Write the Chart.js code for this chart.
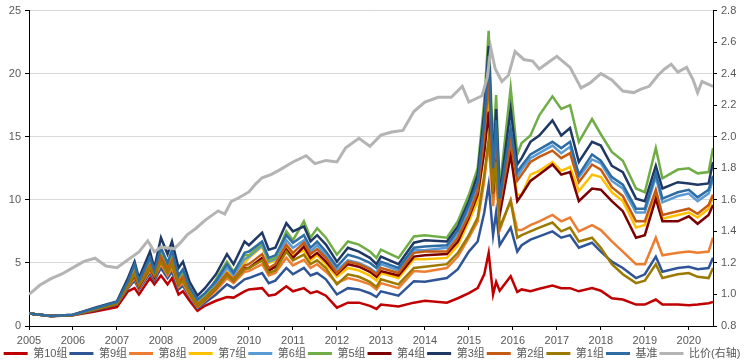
<!DOCTYPE html>
<html>
<head>
<meta charset="utf-8">
<script src="https://cdn.jsdelivr.net/npm/chart.js@4"></script>
<style>
  html, body { margin: 0; padding: 0; background: #fff; }
  #box { width: 744px; height: 363px; }
</style>
</head>
<body>
<div id="box"><canvas id="grp-chart" width="744" height="363"></canvas></div>
<script>
// 日期 (年份, 小数)
var DATES = [
  2005.0, 2005.5, 2006.0, 2006.5, 2007.0, 2007.25, 2007.4, 2007.5, 2007.75, 2007.85,
  2008.0, 2008.15, 2008.25, 2008.4, 2008.5, 2008.65, 2008.83, 2009.0, 2009.25, 2009.5,
  2009.65, 2009.9, 2010.0, 2010.3, 2010.45, 2010.6, 2010.85, 2011.0, 2011.25, 2011.4,
  2011.55, 2011.75, 2012.0, 2012.25, 2012.5, 2012.75, 2012.9, 2013.0, 2013.4, 2013.75,
  2014.0, 2014.5, 2014.75, 2015.0, 2015.2, 2015.35, 2015.45, 2015.55, 2015.62, 2015.7,
  2015.95, 2016.1, 2016.2, 2016.4, 2016.6, 2016.9, 2017.1, 2017.3, 2017.5, 2017.8,
  2018.0, 2018.25, 2018.5, 2018.8, 2019.0, 2019.25, 2019.4, 2019.75, 2020.0, 2020.2,
  2020.45, 2020.55
];

var G10 = [
  1.0, 0.78, 0.85, 1.15, 1.5, 2.75, 3.0, 2.5, 3.8, 3.3,
  4.0, 3.3, 3.8, 2.5, 2.75, 2.0, 1.2, 1.6, 2.0, 2.3,
  2.25, 2.75, 2.9, 3.0, 2.4, 2.5, 3.15, 2.75, 3.0, 2.6,
  2.75, 2.4, 1.45, 1.85, 1.85, 1.6, 1.35, 1.7, 1.55, 1.85,
  2.0, 1.85, 2.2, 2.6, 3.0, 4.1, 5.8, 2.5, 3.5, 2.8,
  3.95, 2.7, 2.9, 2.75, 2.95, 3.2, 3.0, 3.0, 2.75, 3.0,
  2.8, 2.2, 2.1, 1.7, 1.7, 2.1, 1.7, 1.7, 1.65, 1.7, 1.8, 1.9
];
var G9 = [
  1.0, 0.8, 0.87, 1.25, 1.7, 3.0, 3.6, 2.9, 4.2, 3.6,
  4.6, 3.8, 4.3, 2.9, 3.2, 2.3, 1.4, 1.85, 2.5, 3.3,
  3.0, 3.7, 3.8, 4.2, 3.4, 3.6, 4.6, 4.1, 4.6, 4.0,
  4.2, 3.7, 2.5, 3.0, 2.9, 2.6, 2.3, 2.75, 2.4, 3.55,
  3.5, 3.8, 4.5, 5.9, 6.7, 9.0, 11.2, 7.2, 9.0, 6.4,
  7.8, 5.9, 6.4, 6.85, 7.1, 7.5, 7.0, 7.2, 6.2, 6.6,
  5.9, 5.1, 4.6, 3.8, 4.1, 5.5, 4.3, 4.6, 4.7, 4.5, 4.6, 5.4
];
var G8 = [
  1.0, 0.8, 0.87, 1.3, 1.75, 3.1, 3.8, 3.0, 4.4, 3.8,
  4.9, 4.0, 4.6, 3.1, 3.4, 2.4, 1.5, 2.0, 2.8, 3.8,
  3.4, 4.3, 4.35, 4.9, 4.0, 4.2, 5.4, 4.8, 5.25, 4.6,
  4.9, 4.3, 3.4, 3.8, 3.6, 3.3, 2.9, 3.4, 3.0, 4.35,
  4.3, 4.6, 5.5, 7.0, 8.3, 11.5, 14.6, 9.5, 12.0, 7.6,
  10.0, 7.6, 7.6, 8.0, 8.3, 8.8, 8.3, 8.6, 7.5, 8.0,
  7.6, 6.7, 5.9, 4.9, 4.9, 7.0, 5.6, 5.8, 5.9, 5.8, 5.9, 7.0
];
var G7 = [
  1.0, 0.8, 0.88, 1.35, 1.8, 3.2, 4.0, 3.2, 4.6, 4.0,
  5.3, 4.3, 5.0, 3.3, 3.7, 2.6, 1.6, 2.1, 3.2, 4.3,
  3.8, 5.0, 5.4, 6.3, 5.0, 5.2, 6.2, 5.6, 6.0, 5.2,
  5.6, 4.9, 3.9, 4.6, 4.4, 4.0, 3.6, 4.2, 3.8, 5.3,
  5.3, 5.4, 6.4, 8.3, 9.9, 14.0, 18.0, 11.0, 14.0, 9.5,
  13.5, 10.4, 10.4, 12.0, 12.3, 13.0, 12.3, 12.6, 10.7, 12.0,
  11.8, 10.6, 9.9, 7.8, 8.0, 10.5, 8.5, 8.8, 9.0, 8.6, 9.3, 10.2
];
var G6 = [
  1.0, 0.8, 0.88, 1.4, 1.85, 3.4, 4.5, 3.5, 5.1, 4.3,
  6.0, 4.8, 5.7, 3.8, 4.3, 2.9, 1.9, 2.4, 3.4, 4.6,
  4.0, 5.3, 5.5, 6.4, 5.1, 5.3, 6.8, 6.2, 6.8, 5.9,
  6.4, 5.6, 4.4, 5.2, 5.0, 4.6, 4.2, 4.9, 4.4, 6.0,
  6.0, 6.2, 7.3, 9.3, 11.1, 15.5, 20.4, 12.0, 15.5, 10.0,
  15.0, 11.8, 12.4, 13.3, 13.7, 14.3, 13.7, 14.2, 11.8, 13.2,
  12.9, 11.5, 10.9, 9.0, 9.0, 11.8, 9.8, 10.3, 10.5, 9.9, 10.5, 11.6
];
var G5 = [
  1.0, 0.8, 0.88, 1.35, 1.8, 3.3, 4.3, 3.3, 4.9, 4.1,
  5.8, 4.7, 5.5, 3.7, 4.1, 2.8, 1.8, 2.3, 3.7, 5.1,
  4.3, 5.6, 5.6, 6.6, 5.2, 5.4, 7.5, 6.8, 8.3, 7.0,
  7.75, 7.0, 5.65, 6.7, 6.45, 5.9, 5.4, 6.05, 5.4, 7.1,
  7.2, 7.0, 8.3, 10.4, 12.5, 17.8, 23.4, 13.8, 18.3, 10.9,
  18.9, 13.6, 14.5, 15.1, 16.7, 18.2, 17.2, 17.5, 14.6, 16.4,
  15.2, 13.8, 13.1, 10.9, 10.6, 14.1, 11.7, 12.4, 12.5, 12.1, 12.2, 14.1
];
var G4 = [
  1.0, 0.8, 0.87, 1.3, 1.75, 3.2, 4.0, 3.1, 4.6, 3.9,
  5.3, 4.3, 5.0, 3.3, 3.7, 2.6, 1.6, 2.1, 3.0, 4.1,
  3.6, 4.6, 4.6, 5.4, 4.4, 4.7, 6.05, 5.4, 6.3, 5.4,
  5.8, 5.1, 4.1, 4.9, 4.7, 4.3, 3.9, 4.35, 4.0, 5.5,
  5.6, 5.7, 6.7, 8.6, 10.4, 13.8, 17.0, 10.5, 13.5, 8.8,
  13.6, 9.9, 10.4, 11.5, 12.0, 12.8, 12.0, 12.2, 9.9, 10.9,
  10.8, 9.9, 9.1, 7.0, 7.2, 10.1, 8.3, 8.3, 8.7, 8.1, 8.8, 9.6
];
var G3 = [
  1.0, 0.8, 0.9, 1.45, 1.95, 3.8, 5.1, 3.8, 5.9, 4.6,
  7.0, 5.7, 6.7, 4.6, 5.1, 3.5, 2.4, 3.0, 4.1, 5.7,
  4.9, 6.7, 6.4, 7.4, 6.05, 6.2, 8.15, 7.5, 7.9, 6.7,
  7.2, 6.45, 5.1, 6.2, 5.9, 5.4, 4.9, 5.5, 4.9, 6.6,
  6.8, 6.7, 7.9, 9.9, 12.0, 17.0, 22.2, 13.0, 17.2, 10.4,
  17.2, 12.8, 13.3, 14.6, 15.1, 16.3, 15.1, 15.7, 13.0, 14.6,
  14.3, 12.7, 12.2, 10.1, 9.9, 12.7, 10.9, 11.4, 11.3, 11.2, 11.3, 13.0
];
var G2 = [
  1.0, 0.8, 0.88, 1.35, 1.8, 3.3, 4.2, 3.3, 4.8, 4.1,
  5.5, 4.5, 5.2, 3.5, 3.9, 2.7, 1.7, 2.2, 3.1, 4.2,
  3.7, 4.8, 4.9, 5.7, 4.6, 4.9, 6.45, 5.8, 6.6, 5.7,
  6.1, 5.4, 4.2, 5.1, 4.9, 4.5, 4.1, 4.6, 4.2, 5.8,
  5.9, 5.9, 7.0, 8.8, 10.7, 15.0, 19.6, 11.5, 15.0, 9.6,
  14.5, 11.5, 12.0, 13.0, 13.4, 13.9, 13.3, 13.7, 11.4, 12.8,
  12.4, 11.0, 10.3, 8.3, 8.3, 10.8, 8.8, 9.1, 9.3, 8.9, 9.6, 10.4
];
var G1 = [
  1.0, 0.8, 0.87, 1.3, 1.75, 3.2, 4.1, 3.2, 4.6, 4.0,
  5.1, 4.2, 4.9, 3.3, 3.6, 2.6, 1.6, 2.1, 3.0, 4.0,
  3.6, 4.5, 4.6, 5.2, 4.2, 4.4, 5.9, 5.2, 5.65, 4.9,
  5.2, 4.6, 3.3, 4.1, 3.9, 3.5, 3.1, 3.7, 3.3, 4.6,
  4.7, 4.9, 5.8, 7.2, 8.6, 12.0, 14.8, 10.9, 13.0, 7.8,
  9.9, 7.0, 7.2, 7.5, 7.8, 8.2, 7.5, 7.8, 6.7, 7.0,
  6.2, 4.9, 4.1, 3.4, 3.6, 4.9, 3.8, 4.1, 4.2, 3.9, 3.8, 4.6
];
var BENCH = [
  1.0, 0.8, 0.9, 1.4, 1.9, 3.55, 4.9, 3.6, 5.4, 4.4,
  6.2, 5.0, 6.0, 4.0, 4.5, 3.1, 2.1, 2.6, 3.55, 4.9,
  4.2, 5.8, 5.9, 6.7, 5.4, 5.6, 7.2, 6.6, 7.2, 6.2,
  6.7, 5.9, 4.7, 5.65, 5.4, 5.0, 4.6, 5.1, 4.6, 6.2,
  6.3, 6.4, 7.6, 9.6, 11.4, 16.2, 21.4, 12.5, 16.3, 10.1,
  15.7, 12.2, 12.7, 13.6, 14.0, 14.6, 14.1, 14.6, 12.0, 13.6,
  13.1, 11.8, 11.2, 9.3, 9.3, 12.1, 10.1, 10.6, 10.8, 10.2, 10.8, 11.9
];

// 比价 (右轴), 自己的日期
var RATIO_DATES = [
  2005.0, 2005.25, 2005.5, 2005.75, 2006.0, 2006.25, 2006.5, 2006.75, 2007.0, 2007.25,
  2007.5, 2007.7, 2007.85, 2008.0, 2008.3, 2008.45, 2008.6, 2008.8, 2009.0, 2009.3,
  2009.45, 2009.6, 2009.75, 2010.0, 2010.15, 2010.3, 2010.5, 2010.7, 2011.0, 2011.3,
  2011.5, 2011.75, 2012.0, 2012.2, 2012.5, 2012.75, 2013.0, 2013.25, 2013.5, 2013.75,
  2014.0, 2014.3, 2014.6, 2014.85, 2015.0, 2015.3, 2015.42, 2015.5, 2015.6, 2015.75,
  2015.9, 2016.05, 2016.25, 2016.45, 2016.6, 2016.85, 2017.0, 2017.3, 2017.55, 2017.75,
  2018.0, 2018.25, 2018.5, 2018.75, 2018.9, 2019.1, 2019.3, 2019.45, 2019.6, 2019.75,
  2019.95, 2020.1, 2020.2, 2020.3, 2020.55
];
var RATIO = [
  1.00, 1.06, 1.10, 1.13, 1.17, 1.21, 1.23, 1.18, 1.17, 1.22,
  1.27, 1.34, 1.27, 1.30, 1.29, 1.33, 1.38, 1.42, 1.47, 1.53,
  1.51, 1.59, 1.61, 1.65, 1.70, 1.74, 1.76, 1.79, 1.84, 1.88,
  1.83, 1.85, 1.84, 1.93, 1.99, 1.94, 2.01, 2.03, 2.04, 2.16,
  2.22, 2.25, 2.25, 2.32, 2.22, 2.26, 2.38, 2.56, 2.43, 2.35,
  2.39, 2.54, 2.49, 2.48, 2.43, 2.48, 2.51, 2.44, 2.31, 2.34,
  2.40, 2.36, 2.29, 2.28, 2.30, 2.32, 2.39, 2.43, 2.46, 2.41,
  2.44, 2.36, 2.28, 2.35, 2.32
];

var NAMES = ['第10组', '第9组', '第8组', '第7组', '第6组', '第5组', '第4组', '第3组', '第2组', '第1组', '基准', '比价(右轴)'];
var COLORS = ['#C00000', '#2F5597', '#ED7D31', '#FFC000', '#5B9BD5', '#70AD47', '#7B0000', '#1F3864', '#C55A11', '#9C7A00', '#2E6DA4', '#B4B4B4'];
var SERIES = [G10, G9, G8, G7, G6, G5, G4, G3, G2, G1, BENCH];

var FONT = '"Liberation Sans", "Noto Sans CJK SC", Arial, sans-serif';
var TXT = '#595959';

function pts(xs, ys) {
  return xs.map(function (x, i) { return { x: x, y: ys[i] }; });
}

var datasets = SERIES.map(function (vals, i) {
  return {
    label: NAMES[i],
    data: pts(DATES, vals),
    borderColor: COLORS[i],
    backgroundColor: COLORS[i],
    borderWidth: 2.5,
    pointRadius: 0,
    tension: 0,
    yAxisID: 'y',
    order: 20 - i
  };
});
datasets.push({
  label: NAMES[11],
  data: pts(RATIO_DATES, RATIO),
  borderColor: COLORS[11],
  backgroundColor: COLORS[11],
  borderWidth: 3,
  pointRadius: 0,
  tension: 0,
  yAxisID: 'y2',
  order: 1
});

window.addEventListener('load', function () {
  var ctx = document.getElementById('grp-chart').getContext('2d');
  new Chart(ctx, {
    type: 'line',
    data: { datasets: datasets },
    options: {
      responsive: false,
      animation: false,
      devicePixelRatio: 1,
      layout: { padding: { top: 1, left: 0, right: 0, bottom: -6 } },
      scales: {
        x: {
          type: 'linear',
          min: 2005,
          max: 2020.55,
          afterFit: function (s) { s.height = 20; },
          ticks: {
            stepSize: 1,
            includeBounds: false,
            autoSkip: false,
            maxRotation: 0,
            color: TXT,
            font: { family: FONT, size: 11 },
            padding: 4,
            callback: function (v) { return String(v); }
          },
          grid: { drawOnChartArea: false, drawTicks: true, tickLength: 4, color: '#000' },
          border: { display: true, color: '#000', width: 1 }
        },
        y: {
          position: 'left',
          min: 0,
          max: 25,
          afterFit: function (s) { s.width = 29; },
          ticks: {
            stepSize: 5,
            color: TXT,
            font: { family: FONT, size: 11 },
            padding: 4
          },
          grid: { color: '#D9D9D9', lineWidth: 1, tickColor: '#000', tickLength: 4 },
          border: { display: true, color: '#000', width: 1 }
        },
        y2: {
          position: 'right',
          min: 0.8,
          max: 2.8,
          afterFit: function (s) { s.width = 31; },
          ticks: {
            stepSize: 0.2,
            color: TXT,
            font: { family: FONT, size: 11 },
            padding: 4,
            callback: function (v) { return Number(v).toFixed(1); }
          },
          grid: { drawOnChartArea: false, tickColor: '#000', tickLength: 4 },
          border: { display: true, color: '#000', width: 1 }
        }
      },
      plugins: {
        tooltip: { enabled: false },
        legend: {
          position: 'bottom',
          labels: {
            boxWidth: 24,
            boxHeight: 3,
            padding: 2,
            color: TXT,
            font: { family: FONT, size: 11 },
            generateLabels: function (chart) {
              var items = Chart.defaults.plugins.legend.labels.generateLabels(chart);
              items.sort(function (a, b) { return a.datasetIndex - b.datasetIndex; });
              items.forEach(function (it) { it.lineWidth = 0; });
              return items;
            }
          }
        }
      }
    }
  });
});
</script>
</body>
</html>
